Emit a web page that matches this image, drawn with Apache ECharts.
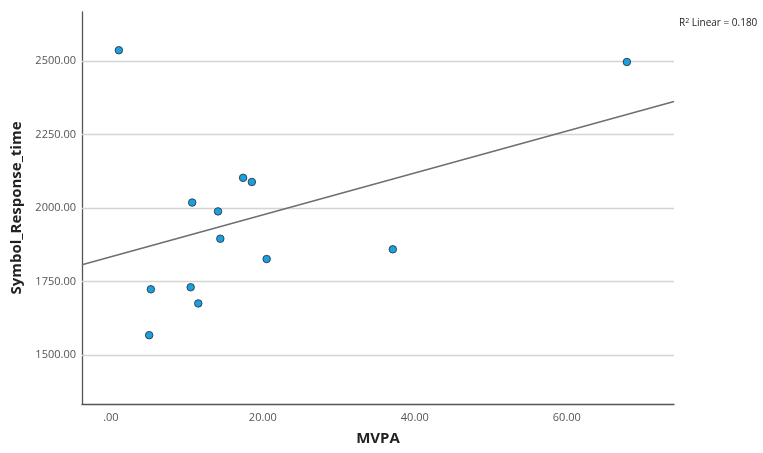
<!DOCTYPE html>
<html>
<head>
<meta charset="utf-8">
<script src="https://cdn.jsdelivr.net/npm/echarts@6/dist/echarts.min.js"></script>
<style>html,body{margin:0;padding:0;background:#fff;}#c{width:763px;height:453px;}</style>
</head>
<body>
<div id="c"></div>
<script>
const mvpa = [1.05, 67.9, 10.7, 14.1, 17.4, 18.55, 14.4, 20.5, 37.1, 5.26, 10.5, 11.5, 5.04];
const responseTime = [2537, 2497, 2019, 1989, 2103, 2089, 1896, 1827, 1860, 1724, 1731, 1676, 1568];
const xTicks = [0, 20, 40, 60];
const yTicks = [1500, 1750, 2000, 2250, 2500];
const xLabel = 'MVPA';
const yLabel = 'Symbol_Response_time';
const r2Text = '0.180';

const X_MIN = -3.8, X_MAX = 74.1, Y_MIN = 1334, Y_MAX = 2667;

// least squares fit
const n = mvpa.length;
const mx = mvpa.reduce((a, b) => a + b, 0) / n;
const my = responseTime.reduce((a, b) => a + b, 0) / n;
let sxy = 0, sxx = 0;
for (let i = 0; i < n; i++) { sxy += (mvpa[i] - mx) * (responseTime[i] - my); sxx += (mvpa[i] - mx) ** 2; }
const slope = sxy / sxx, intercept = my - slope * mx;
const fitLine = [[X_MIN, intercept + slope * X_MIN], [X_MAX, intercept + slope * X_MAX]];

const fmt = v => { const s = v.toFixed(2); return s.startsWith('0.') ? s.slice(1) : s; };
const font = 'Open Sans';

const chart = echarts.init(document.getElementById('c'), null, { renderer: 'canvas' });
chart.setOption({
  animation: false,
  backgroundColor: '#fff',
  textStyle: { fontFamily: font },
  title: {
    text: '{r|R}{s|2}{r| Linear = ' + r2Text + '}',
    left: 674, top: 12,
    textStyle: {
      fontWeight: 'normal',
      rich: {
        r: { fontSize: 10, color: '#222', fontFamily: font, fontWeight: 'normal' },
        s: { fontSize: 7, color: '#222', fontFamily: font, fontWeight: 'normal', verticalAlign: 'top', padding: [0, 0, 6, 0] }
      }
    }
  },
  grid: { left: 82, top: 12, right: 89, bottom: 49 },
  xAxis: {
    type: 'value', min: X_MIN, max: X_MAX,
    name: xLabel, nameLocation: 'middle', nameGap: 27,
    nameTextStyle: { fontSize: 15, fontWeight: 'bold', color: '#222', fontFamily: font },
    axisLine: { show: true, onZero: false, lineStyle: { color: '#555', width: 1.3 } },
    axisTick: { show: false, customValues: xTicks },
    splitLine: { show: false },
    axisLabel: { customValues: xTicks, formatter: fmt, color: '#555', fontSize: 11, margin: 8 }
  },
  yAxis: {
    type: 'value', min: Y_MIN, max: Y_MAX,
    name: yLabel, nameLocation: 'middle', nameGap: 56,
    nameTextStyle: { fontSize: 15, fontWeight: 'bold', color: '#222', fontFamily: font },
    axisLine: { show: true, onZero: false, lineStyle: { color: '#555', width: 1.3 } },
    axisTick: { show: false, customValues: yTicks },
    splitLine: { show: false },
    axisLabel: { customValues: yTicks, formatter: fmt, color: '#555', fontSize: 11, margin: 6 }
  },
  series: [
    {
      type: 'line', data: fitLine, showSymbol: false, symbol: 'none',
      lineStyle: { color: '#6e6e6e', width: 1.5 }, z: 2, silent: true,
      markLine: {
        silent: true, symbol: 'none', label: { show: false },
        lineStyle: { color: '#d4d4d4', width: 1.3, type: 'solid' },
        z: 1,
        data: yTicks.map(v => ({ yAxis: v }))
      }
    },
    {
      type: 'scatter', data: mvpa.map((x, i) => [x, responseTime[i]]),
      symbol: 'circle', symbolSize: 7.5,
      itemStyle: { color: '#1a9fe0', borderColor: '#2b3a45', borderWidth: 0.9, opacity: 1 }, z: 3
    }
  ]
});
</script>
</body>
</html>
